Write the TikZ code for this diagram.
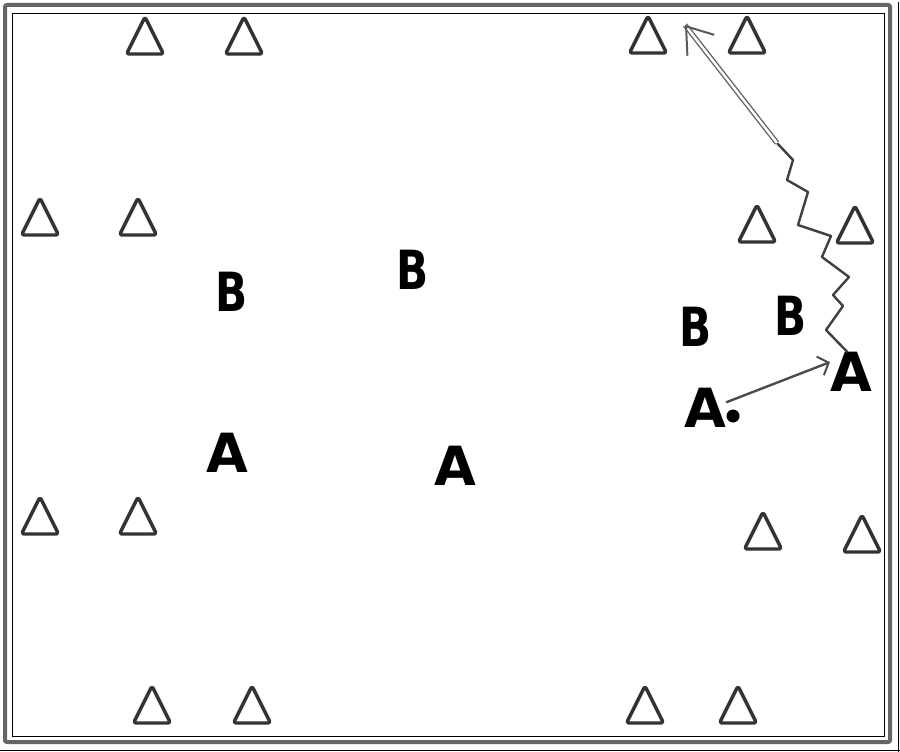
\documentclass[tikz,border=0pt]{standalone}
\usepackage{fontspec}
\setmainfont{DejaVu Sans}
\usetikzlibrary{arrows.meta,calc}
\tikzset{
  cone/.style={draw=black!80, line width=3.4pt, rounded corners=2.5pt, line join=round},
  player/.style={inner sep=0pt, font=\fontsize{54}{54}\selectfont\bfseries},
  pass/.style={draw=black!70, line width=2.4pt, -{Straight Barb[length=9pt,width=20pt,line width=2pt]}},
  dribble/.style={draw=black!75, line width=2.4pt, line join=round},
  run/.style={draw=black!60, line width=1.4pt, double=white, double distance=2.4pt},
  runhead/.style={draw=black!65, line width=2pt, -{Straight Barb[length=24pt,width=34pt,line width=2pt]}},
  frameout/.style={draw=black!60, line width=4pt, rounded corners=2pt},
  framein/.style={draw=black, line width=0.8pt},
}
\newcommand{\mycone}[2]{\draw[cone] (#1,#2) -- ++(18.5,37) -- ++(-37,0) -- cycle;}
\begin{document}
\begin{tikzpicture}[x=1pt,y=-1pt]
\useasboundingbox (0,0) rectangle (900,752);
% frame
\draw[frameout] (5,5) rectangle (890,742);
\draw[framein] (12,13) rectangle (884,736);
\draw[framein] (898,2) -- (898,752);
\draw[framein] (0,750) -- (900,750);
% cones (apex positions)
\mycone{145}{17}\mycone{244}{17}\mycone{648}{16}\mycone{747}{16}
\mycone{40}{198}\mycone{138}{198}\mycone{757}{205}\mycone{855}{206}
\mycone{40}{497}\mycone{138}{497}\mycone{763}{512}\mycone{862}{515}
\mycone{152}{686}\mycone{252}{686}\mycone{645}{686}\mycone{738}{686}
% players
\node[player] (b1) at (232,292) {\scalebox{0.78}[1]{B}};
\node[player] (b2) at (413,270) {\scalebox{0.78}[1]{B}};
\node[player] (b3) at (696,327) {\scalebox{0.78}[1]{B}};
\node[player] (b4) at (791,316) {\scalebox{0.78}[1]{B}};
\node[player] (a1) at (227,453) {A};
\node[player] (a2) at (455,466) {A};
\node[player] (a3) at (705,408) {A};
\node[player] (a4) at (851,372) {A};
\node[circle, fill=black, inner sep=0pt, minimum size=13pt] (ball) at (733,416) {};
% pass
\draw[pass] (a3.15) -- (a4.155);
% dribble
\coordinate (rs) at (777,143);
\draw[dribble] (a4.100) -- (826,330) -- (843,306) -- (833,295) -- (849,277) -- (822,257)
  -- (831,236) -- (798,225) -- (808,192) -- (787,180) -- (793,160) -- (rs);
% run
\coordinate (rt) at (685,25);
\draw[run] (rs) -- (rt);
\draw[runhead] ($(rt)!1pt!(rs)$) -- (rt);
\end{tikzpicture}
\end{document}
